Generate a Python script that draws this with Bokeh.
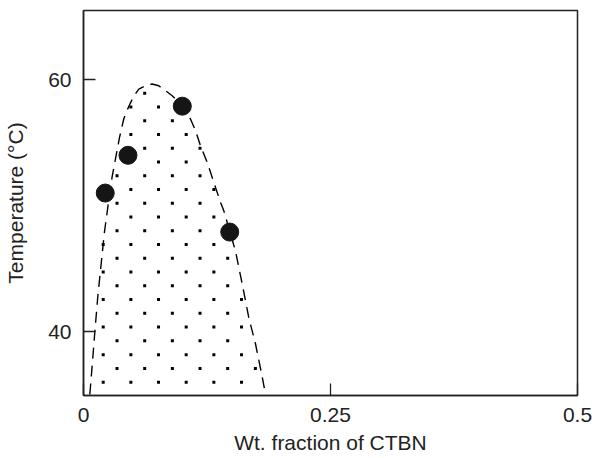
import numpy as np
from bokeh.plotting import figure
from bokeh.models import Range1d, FixedTicker
from bokeh.embed import file_html
from bokeh.resources import INLINE

# Measured points (weight fraction of CTBN, temperature in °C)
pts_x = [0.022, 0.045, 0.100, 0.148]
pts_y = [51.0, 54.0, 57.9, 47.9]

# Dashed phase-boundary curve
curve_x = [0.0064, 0.0090, 0.0115, 0.0145, 0.0179, 0.0212, 0.0250, 0.0290, 0.0364,
           0.0408, 0.0459, 0.0509, 0.0560, 0.0628, 0.0695, 0.0762, 0.0830, 0.0898,
           0.0999, 0.1083, 0.1134, 0.1184, 0.1252, 0.1319, 0.1387, 0.1420, 0.1538,
           0.1606, 0.1673, 0.1740, 0.1809, 0.1842]
curve_y = [35.0, 37.5, 40.0, 42.8, 45.4, 47.9, 50.1, 52.3, 55.4,
           56.9, 57.9, 58.7, 59.26, 59.52, 59.66, 59.52, 59.13, 58.73,
           57.94, 56.88, 55.95, 54.76, 53.44, 51.85, 50.26, 49.6, 46.4,
           43.8, 41.1, 39.05, 36.4, 35.0]

x_ticks = [0, 0.25, 0.5]
x_tick_labels = ["0", "0.25", "0.5"]
y_ticks = [40, 60]
y_tick_labels = ["40", "60"]

FONT = "Liberation Sans"
FS = "21px"
INK = "#222222"

p = figure(width=592, height=458, output_backend="svg", toolbar_location=None,
           x_range=Range1d(0, 0.5), y_range=Range1d(34.92, 65.5),
           min_border_left=83, min_border_right=15, min_border_top=10,
           min_border_bottom=63)

p.grid.visible = False
p.background_fill_color = "white"
p.border_fill_color = "white"
p.outline_line_color = INK
p.outline_line_width = 1.5

# Dotted texture filling the region under the curve (staggered lattice)
cx = np.array(curve_x)
cy = np.array(curve_y)
step_x, step_y = 0.0140, 1.093          # texture spacing
gx, gy = [], []
for j in range(40):
    yy = 35.98 + j * step_y
    for i in range(-2, 40):
        if (i + j) % 2:
            continue
        xx = 0.01994 + i * step_x
        # ray casting point-in-polygon test against the closed curve
        inside = False
        n = len(cx)
        for k in range(n):
            x1, y1 = cx[k], cy[k]
            x2, y2 = cx[(k + 1) % n], cy[(k + 1) % n]
            if (y1 > yy) != (y2 > yy):
                xi = x1 + (yy - y1) * (x2 - x1) / (y2 - y1)
                if xx < xi:
                    inside = not inside
        if inside:
            gx.append(xx)
            gy.append(yy)

p.scatter(gx, gy, marker="square", size=3, fill_color="black", line_color=None)
p.line(curve_x, curve_y, line_color="black", line_width=1.4, line_dash="11 7")
p.scatter(pts_x, pts_y, size=18, fill_color="#151515", line_color="#151515")

for ax in (p.xaxis[0], p.yaxis[0]):
    ax.axis_line_color = INK
    ax.axis_line_width = 1.5
    ax.major_tick_in = 12
    ax.major_tick_out = 0
    ax.major_tick_line_color = INK
    ax.major_tick_line_width = 1.3
    ax.minor_tick_line_color = None
    ax.major_label_text_font = FONT
    ax.major_label_text_font_size = FS
    ax.major_label_text_color = INK
    ax.axis_label_text_font = FONT
    ax.axis_label_text_font_size = FS
    ax.axis_label_text_font_style = "normal"
    ax.axis_label_text_color = INK

p.xaxis.ticker = FixedTicker(ticks=x_ticks)
p.xaxis.major_label_overrides = dict(zip(x_ticks, x_tick_labels))
p.xaxis.major_label_standoff = 12
p.xaxis.axis_label = "Wt. fraction of CTBN"
p.xaxis.axis_label_standoff = 6

p.yaxis.ticker = FixedTicker(ticks=y_ticks)
p.yaxis.major_label_overrides = dict(zip(y_ticks, y_tick_labels))
p.yaxis.major_label_standoff = 12
p.yaxis.axis_label = "Temperature (\u00b0C)"
p.yaxis.axis_label_standoff = 18

open("out.html", "w").write(file_html(p, INLINE))
